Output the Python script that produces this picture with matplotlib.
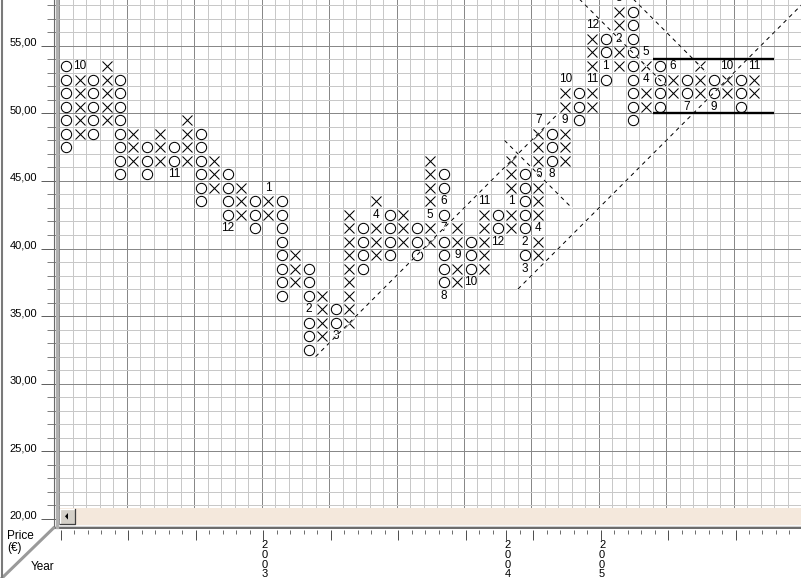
import matplotlib
matplotlib.use('Agg')
import matplotlib.pyplot as plt
import numpy as np
from matplotlib.lines import Line2D
from matplotlib.patches import Rectangle, Polygon
from matplotlib.transforms import ScaledTranslation

plt.rcParams['font.family'] = ['Liberation Sans', 'DejaVu Sans']

# point & figure columns (box = 1,00 EUR), alternating O / X
col_kind = 'OX' * 26
col_low = [47, 48, 48, 49, 45, 46, 45, 46, 45, 46, 43, 44, 41, 42, 41, 42, 36, 37, 32, 33,
           33, 34, 38, 39, 39, 40, 39, 40, 36, 37, 37, 38, 40, 41, 38, 39, 45, 46, 49, 50,
           52, 53, 49, 50, 50, 51, 50, 51, 50, 51, 50, 51]
col_high = [53, 53, 52, 53, 52, 48, 47, 48, 47, 49, 48, 46, 45, 44, 43, 44, 43, 39, 38, 36,
            35, 42, 41, 43, 42, 42, 41, 46, 45, 41, 40, 43, 42, 46, 45, 49, 48, 52, 51, 56,
            55, 58, 57, 54, 53, 53, 52, 53, 52, 53, 52, 53]

# month numbers written in place of a box
month_col = [1, 8, 12, 15, 18, 20, 23, 27, 28, 28, 28, 29, 30, 31, 32, 33, 34, 34, 35, 35,
             35, 36, 37, 37, 39, 39, 40, 41, 41, 43, 43, 45, 46, 48, 49, 51]
month_row = [53, 45, 41, 44, 35, 33, 42, 42, 43, 41, 36, 39, 37, 43, 40, 43, 40, 38, 41, 45,
             49, 45, 49, 52, 52, 56, 53, 55, 58, 52, 54, 53, 50, 50, 53, 53]
month_txt = ['10', '11', '12', '1', '2', '3', '4', '5', '6', '7', '8', '9', '10', '11', '12',
             '1', '2', '3', '4', '6', '7', '8', '9', '10', '11', '12', '1', '2', '3', '4',
             '5', '6', '7', '9', '10', '11']

# 45 degree trend lines
trend_x0 = [19, 33, 34, 42, 38]
trend_y0 = [32, 48, 37, 59, 59]
trend_x1 = [37, 38, 56, 48, 45]
trend_y1 = [50, 43, 59, 53, 52]

# congestion box
band_prices = [50, 54]
band_x0, band_x1 = 44, 53

year_col = [15, 33, 40]
year_txt = ['2003', '2004', '2005']
ytick_vals = [20, 25, 30, 35, 40, 45, 50, 55]

W, H = 801, 578
col_w, row_h = 13.49, 13.52
fig = plt.figure(figsize=(W / 100, H / 100), dpi=100)


def fx(px):
    return px / W


def fy(py):
    return 1 - py / H


def px_line(xs, ys, **kw):
    fig.add_artist(Line2D([fx(v) for v in xs], [fy(v) for v in ys],
                          transform=fig.transFigure, **kw))


left, bottom = 59.3, 525
ax = fig.add_axes([fx(left), fy(bottom), (W - left) / W, bottom / H])
ax.set_xlim(0, (W - left) / col_w)
ax.set_ylim(55 - (bottom - 45.7) / row_h, 55 + 45.7 / row_h)

ax.set_xticks(np.arange(0, 55, 5))
ax.set_xticks(np.arange(0, 55), minor=True)
ax.set_yticks(ytick_vals, labels=[f"{v},00" for v in ytick_vals])
ax.set_yticks(np.arange(20, 59), minor=True)
ax.grid(which='minor', color='#c8c8c8', lw=0.72)
ax.grid(which='major', color='#888888', lw=0.72)
ax.set_axisbelow(True)
ax.tick_params(axis='x', which='both', length=0, labelbottom=False)
ax.tick_params(axis='y', which='major', length=13.2, width=0.72, color='#606060',
               pad=2.9, labelsize=8)
ax.tick_params(axis='y', which='minor', length=8.9, width=0.72, color='#808080')
for t in ax.get_yticklabels():
    t.set_verticalalignment('baseline')
for s in ax.spines.values():
    s.set_visible(False)

# boxes
ox, oy, xx, xy = [], [], [], []
labelled = set(zip(month_col, month_row))
for c, (k, lo, hi) in enumerate(zip(col_kind, col_low, col_high)):
    for r in range(lo, hi + 1):
        if (c, r) in labelled:
            continue
        if k == 'O':
            ox.append(c + 0.5)
            oy.append(r + 0.5)
        else:
            xx.append(c + 0.5)
            xy.append(r + 0.5)

ax.plot(ox, oy, 'o', ms=7.4, mfc='none', mec='black', mew=0.75, zorder=3)
ax.plot(xx, xy, 'x', ms=7.4, mec='black', mew=0.75, zorder=3)
for c, r, s in zip(month_col, month_row, month_txt):
    ax.text(c + 0.5, r + 0.5, s, ha='center', va='center', fontsize=8.5, zorder=3,
            clip_on=True)

for x0, y0, x1, y1 in zip(trend_x0, trend_y0, trend_x1, trend_y1):
    ax.plot([x0, x1], [y0, y1], color='white', lw=1.0, zorder=4)
    ax.plot([x0, x1], [y0, y1], color='black', lw=0.72, ls=(0, (4, 4)), zorder=5)

for p in band_prices:
    ax.plot([band_x0, band_x1], [p, p], color='black', lw=1.7, zorder=5,
            solid_capstyle='butt')

# bottom date axis
axb = fig.add_axes([fx(61.0), fy(530), (W - 61.0) / W, 0.0001])
axb.set_xlim(0, (W - 61.0) / col_w)
major = sorted(set(range(0, 55, 5)) | set(year_col))
lab = {c: '\n'.join(t) for c, t in zip(year_col, year_txt)}
axb.set_xticks(major, labels=[lab.get(c, '') for c in major])
axb.set_xticks(np.arange(0, 55), minor=True)
axb.set_yticks([])
for s in axb.spines.values():
    s.set_visible(False)
axb.patch.set_visible(False)
axb.tick_params(axis='x', which='major', length=7.2, width=0.72, color='#505050',
                pad=0.3, labelsize=8)
axb.tick_params(axis='x', which='minor', length=2.9, width=0.72, color='#707070')
for t in axb.get_xticklabels():
    t.set_linespacing(0.95)
    t.set_transform(t.get_transform() + ScaledTranslation(1.5 / 100, 0, fig.dpi_scale_trans))

# scroll bar and frame
fig.add_artist(Rectangle((fx(59.5), fy(525)), (W - 59.5) / W, 17 / H, transform=fig.transFigure,
                         facecolor='#f4e8dc', edgecolor='none', zorder=6))
fig.add_artist(Rectangle((fx(59.5), fy(524)), 15.5 / W, 15.5 / H, transform=fig.transFigure,
                         facecolor='#d4d0c8', edgecolor='none', zorder=7))
px_line([59.5, 59.5, 75], [524, 508.5, 508.5], color='white', lw=0.9, zorder=8)
px_line([59.5, 75, 75], [524, 524, 508.5], color='#404040', lw=0.9, zorder=8)
fig.add_artist(Polygon([(fx(65), fy(516.3)), (fx(68), fy(513)), (fx(68), fy(519.6))],
                       closed=True, transform=fig.transFigure, facecolor='black',
                       edgecolor='none', zorder=8))
px_line([55, W], [526, 526], color='#d0d0d0', lw=0.9, zorder=6)
px_line([55, W], [528.3, 528.3], color='#505050', lw=1.2, zorder=6)
px_line([53.5, 53.5], [0, 528], color='#6a6a6a', lw=0.8, zorder=6)
px_line([56.7, 56.7], [0, 527], color='#b0b0b0', lw=2.4, zorder=6)
px_line([53.5, 2], [528, 578], color='#9a9a9a', lw=2.2, zorder=6)
px_line([1.5, 1.5], [0, H], color='#7a7a7a', lw=1.5, zorder=6)

fig.text(fx(7), fy(536), 'Price', fontsize=8.5, ha='left', va='center')
fig.text(fx(7), fy(547.5), '(€)', fontsize=8.5, ha='left', va='center')
fig.text(fx(31), fy(567.5), 'Year', fontsize=8.5, ha='left', va='center')

fig.savefig('out.png', dpi=100, facecolor='white')
